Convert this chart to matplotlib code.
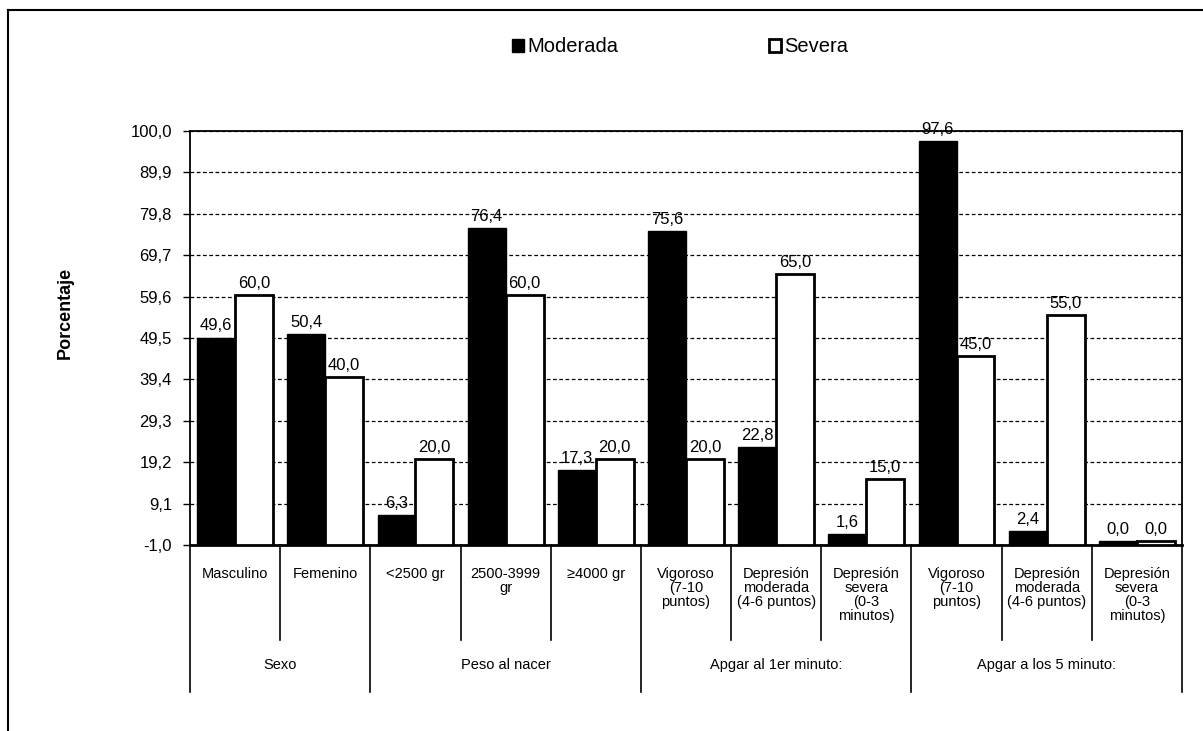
import numpy as np
import matplotlib
matplotlib.use("Agg")
import matplotlib.pyplot as plt
from matplotlib.lines import Line2D
import matplotlib.transforms as mtransforms

plt.rcParams['font.family'] = ['Liberation Sans', 'DejaVu Sans']

categories = [
    "Masculino", "Femenino", "<2500 gr", "2500-3999\ngr", "≥4000 gr",
    "Vigoroso\n(7-10\npuntos)", "Depresión\nmoderada\n(4-6 puntos)", "Depresión\nsevera\n(0-3\nminutos)",
    "Vigoroso\n(7-10\npuntos)", "Depresión\nmoderada\n(4-6 puntos)", "Depresión\nsevera\n(0-3\nminutos)",
]
groups = ["Sexo", "Peso al nacer", "Apgar al 1er minuto:", "Apgar a los 5 minuto:"]
group_sizes = [2, 3, 3, 3]

moderada = [49.6, 50.4, 6.3, 76.4, 17.3, 75.6, 22.8, 1.6, 97.6, 2.4, 0.0]
severa = [60.0, 40.0, 20.0, 60.0, 20.0, 20.0, 65.0, 15.0, 45.0, 55.0, 0.0]

y_min, y_max = -1.0, 100.0

W, H = 1203, 731
fig = plt.figure(figsize=(W / 100, H / 100), dpi=100)
ax = fig.add_axes([190 / W, 1 - 545 / H, (1182 - 190) / W, (545 - 131) / H])

x = np.arange(len(categories))
bw = 0.42

def comma(v):
    return f"{v:.1f}".replace(".", ",")

b1 = ax.bar(x - bw / 2, np.array(moderada) - y_min, bw, bottom=y_min,
            color="black", edgecolor="black", linewidth=1, label="Moderada", zorder=3)
b2 = ax.bar(x + bw / 2, np.array(severa) - y_min, bw, bottom=y_min,
            color="white", edgecolor="black", linewidth=2, label="Severa", zorder=3)

ax.bar_label(b1, labels=[comma(v) for v in moderada], padding=3, fontsize=12, zorder=4)
ax.bar_label(b2, labels=[comma(v) for v in severa], padding=3, fontsize=12, zorder=4)

ax.set_xlim(-0.5, len(categories) - 0.5)
ax.set_ylim(y_min, y_max)
yt = np.linspace(y_min, y_max, 11)
ax.set_yticks(yt)
ax.set_yticklabels([comma(v) for v in yt], fontsize=12)
ax.tick_params(axis="y", length=5, width=1, pad=8)
ax.set_xticks([])
ax.grid(axis="y", color="black", linestyle=(0, (3, 2)), linewidth=0.9, zorder=0)
for s in ax.spines.values():
    s.set_color("black")
    s.set_linewidth(1.3)
ax.spines["bottom"].set_linewidth(2)

fig.text(65 / W, 1 - 313 / H, "Porcentaje", rotation=90, ha="center", va="center",
         fontsize=13, fontweight="bold")

# multi-level category axis below the plot
trans = mtransforms.blended_transform_factory(ax.transData, ax.transAxes)
inner_bottom = -95 / 414
outer_bottom = -147 / 414
boundaries = np.arange(len(categories) + 1) - 0.5
group_edges = np.concatenate([[0], np.cumsum(group_sizes)])
for i, b in enumerate(boundaries):
    yb = outer_bottom if i in group_edges else inner_bottom
    ax.add_line(Line2D([b, b], [0, yb], transform=trans, color="black",
                       linewidth=1.2, clip_on=False))
for xi, lab in zip(x, categories):
    ax.text(xi, -22 / 414, lab, transform=trans, ha="center", va="top",
            fontsize=10.5, linespacing=1.0)
for gi, g in enumerate(groups):
    center = (group_edges[gi] + group_edges[gi + 1] - 1) / 2
    ax.text(center, -120 / 414, g, transform=trans, ha="center", va="center",
            fontsize=10.5)

fig.legend(handles=[b1, b2], labels=["Moderada", "Severa"], loc="center",
           bbox_to_anchor=(680 / W, 1 - 47 / H), ncol=2, frameon=False,
           fontsize=14.5, handlelength=0.6, handleheight=0.6,
           handletextpad=0.15, columnspacing=7.5)

# outer frame edges
fig.add_artist(Line2D([8 / W, 1], [1 - 10 / H, 1 - 10 / H], transform=fig.transFigure,
                      color="black", linewidth=1.5))
fig.add_artist(Line2D([8 / W, 8 / W], [0, 1 - 10 / H], transform=fig.transFigure,
                      color="black", linewidth=1.5))

fig.savefig("out.png", dpi=100)
